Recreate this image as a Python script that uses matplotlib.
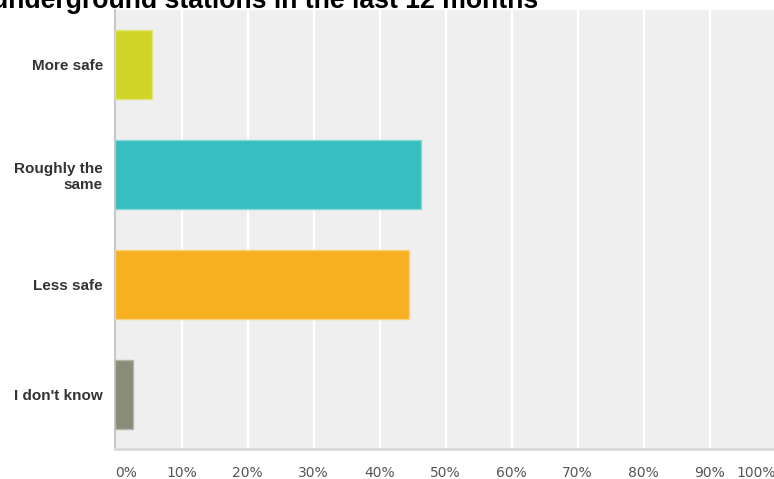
import matplotlib.pyplot as plt
import numpy as np

# survey answers and share of respondents (%)
categories = ["More safe", "Roughly the\nsame", "Less safe", "I don't know"]
values = [5.5, 46.3, 44.4, 2.7]
colors = ["#d0d427", "#35bfc0", "#f7b01f", "#8b8b7a"]
edges = ["#e2e57a", "#85d8d8", "#fad27c", "#b4b4a8"]
tick_pos = np.arange(0, 101, 10)
tick_labels = [f"{t}%" for t in tick_pos]
title = "underground stations in the last 12 months"

W, H = 774, 479
fig = plt.figure(figsize=(W / 100, H / 100), dpi=100)
# axes run off the right edge a little, so 100% sits just outside the frame
ax = fig.add_axes([115.5 / W, 30 / H, 660 / W, 439 / H])
ax.set_facecolor("#efefef")

y = np.arange(len(categories))
ax.barh(y, values, height=0.63, color=colors, edgecolor=edges, linewidth=1, zorder=3)
ax.set_ylim(len(categories) - 0.5, -0.5)
ax.set_xlim(0, 100)

# white vertical gridlines
for t in tick_pos[1:-1]:
    ax.axvline(t, color="white", linewidth=1.6, zorder=1)

for s in ["top", "right"]:
    ax.spines[s].set_visible(False)
ax.spines["left"].set_color("#c8c8c8")
ax.spines["left"].set_linewidth(1.5)
ax.spines["bottom"].set_color("#d9d9d9")
ax.spines["bottom"].set_linewidth(2)

ax.set_yticks(y)
ax.set_yticklabels(categories, fontsize=11, fontweight="bold", color="#333333",
                   family=["Liberation Sans", "DejaVu Sans"], linespacing=1.15)
ax.tick_params(axis="y", length=0, pad=9)

ax.set_xticks(tick_pos)
ax.set_xticklabels(tick_labels, fontsize=10, color="#555555", family="DejaVu Sans")
ax.tick_params(axis="x", length=0, pad=12)
xl = ax.get_xticklabels()
xl[0].set_horizontalalignment("left")
xl[-1].set_horizontalalignment("right")
xl[-1].set_x(99.4)

fig.text(538 / W, 471 / H, title, ha="right", va="baseline", fontsize=19.2,
         fontweight="bold", color="black", family=["Liberation Sans", "DejaVu Sans"])

fig.savefig("out.png", dpi=100)
